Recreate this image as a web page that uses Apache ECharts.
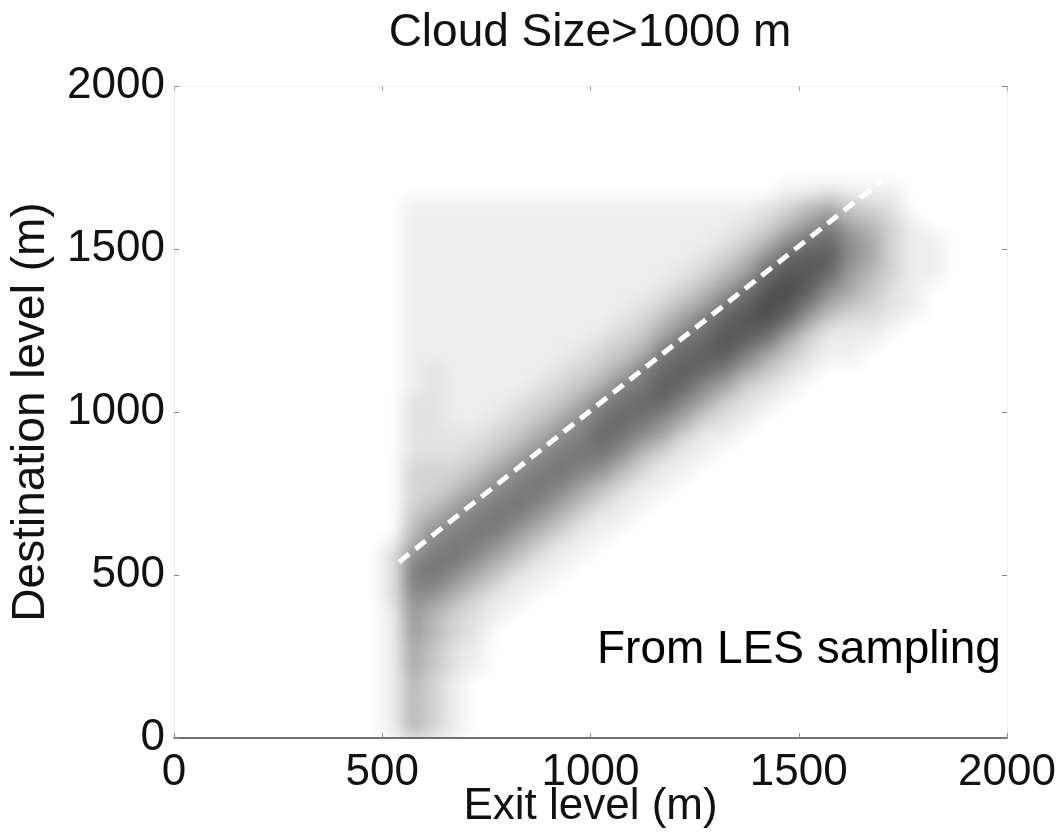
<html>
<head>
<meta charset="utf-8">
<title>Cloud Size&gt;1000 m</title>
<style>
html, body {
    margin: 0;
    padding: 0;
    width: 100%;
    height: 100%;
    background: #fff;
}
#heatWrap {
    position: absolute;
    left: 174px;
    top: 86px;
    width: 833px;
    height: 652px;
    overflow: hidden;
}
#heat {
    width: 100%;
    height: 100%;
    filter: blur(8px);
}
#main {
    position: absolute;
    left: 0;
    top: 0;
    width: 1062px;
    height: 839px;
}
</style>
<script src="https://cdn.jsdelivr.net/npm/echarts/dist/echarts.min.js"></script>
</head>
<body>
<div id="heatWrap"><div id="heat"></div></div>
<div id="main"></div>
<script>
// bin centres (m), 50 m bins, used for both exit and destination level
var binCenters = [25, 75, 125, 175, 225, 275, 325, 375, 425, 475,
    525, 575, 625, 675, 725, 775, 825, 875, 925, 975,
    1025, 1075, 1125, 1175, 1225, 1275, 1325, 1375, 1425, 1475,
    1525, 1575, 1625, 1675, 1725, 1775, 1825, 1875, 1925, 1975];

// sampled density, one string per exit-level bin (x), read bottom (0 m) to top (2000 m)
// hex digit = grey level 0 (white) .. f (darkest)
var densityCols = [
    "0000000000 0000000000 0000000000 0000000000",
    "0000000000 0000000000 0000000000 0000000000",
    "0000000000 0000000000 0000000000 0000000000",
    "0000000000 0000000000 0000000000 0000000000",
    "0000000000 0000000000 0000000000 0000000000",
    "0000000000 0000000000 0000000000 0000000000",
    "0000000000 0000000000 0000000000 0000000000",
    "0000000000 0000000000 0000000000 0000000000",
    "0000000000 0000000000 0000000000 0000000000",
    "0000000000 0000000000 0000000000 0000000000",
    "1111111122 2200000000 0000000000 0000000000",
    "5555667789 9754333222 2111111111 1110000000",
    "3333445579 a986433222 2221111111 1110000000",
    "1111223357 9a98643221 1111111111 1110000000",
    "0000112235 79a9864321 1111111111 1110000000",
    "0000000113 579a986432 1111111111 1110000000",
    "0000000011 3579a98643 2111111111 1110000000",
    "0000000001 13579a9864 3211111111 1110000000",
    "0000000000 113579a986 4321111111 1110000000",
    "0000000000 0113579a98 6432111111 1110000000",
    "0000000000 0011358aba 9643211111 1110000000",
    "0000000000 00011358ab a964321111 1110000000",
    "0000000000 000011358a ba96432111 1110000000",
    "0000000000 0000011368 bcba753211 1110000000",
    "0000000000 0000001136 8bcba75321 1110000000",
    "0000000000 0000000113 68bcba7532 1110000000",
    "0000000000 0000000012 369cdca753 2110000000",
    "0000000000 0000000001 2369cdca75 3210000000",
    "0000000000 0000000000 1246adedb8 5320000000",
    "0000000000 0000000000 01246adedb 8531000000",
    "0000000000 0000000000 0012369cdc a751000000",
    "0000000000 0000000000 00011368bc b962000000",
    "0000000000 0000000000 0001124678 8641000000",
    "0000000000 0000000000 0000123456 6531000000",
    "0000000000 0000000000 0000012233 3321000000",
    "0000000000 0000000000 0000001111 1100000000",
    "0000000000 0000000000 0000000011 1000000000",
    "0000000000 0000000000 0000000000 0000000000",
    "0000000000 0000000000 0000000000 0000000000",
    "0000000000 0000000000 0000000000 0000000000"
];

// dashed white fit line (exit level, destination level)
var lineX = [540, 1700];
var lineY = [540, 1710];

var titleText = 'Cloud Size>1000 m';
var xName = 'Exit level (m)';
var yName = 'Destination level (m)';
var noteText = 'From LES sampling';

var heatData = [];
densityCols.forEach(function (col, i) {
    var s = col.replace(/ /g, '');
    for (var k = 0; k < s.length; k++) {
        heatData.push([i, k, parseInt(s.charAt(k), 16)]);
    }
});

var greys = ['#ffffff', '#eeeeee', '#e2e2e2', '#d4d4d4', '#c6c6c6', '#b8b8b8',
    '#aaaaaa', '#9c9c9c', '#8e8e8e', '#808080', '#747474', '#686868',
    '#5e5e5e', '#555555', '#4d4d4d', '#454545'];

var heatChart = echarts.init(document.getElementById('heat'));
heatChart.setOption({
    animation: false,
    grid: {left: 0, right: 0, top: 0, bottom: 0, outerBoundsMode: 'none'},
    xAxis: {type: 'category', data: binCenters, show: false},
    yAxis: {type: 'category', data: binCenters, show: false},
    visualMap: {
        show: false,
        type: 'continuous',
        dimension: 2,
        min: 0,
        max: 15,
        inRange: {color: greys}
    },
    series: [{
        type: 'heatmap',
        data: heatData,
        itemStyle: {borderWidth: 0},
        emphasis: {disabled: true}
    }]
});

var font = 'Liberation Sans';
var plainNum = function (v) { return String(v); };
var linePts = [];
for (var i = 0; i < lineX.length; i++) {
    linePts.push([lineX[i], lineY[i]]);
}

var mainChart = echarts.init(document.getElementById('main'));
mainChart.setOption({
    animation: false,
    title: {
        text: titleText,
        left: 585,
        top: 5,
        textAlign: 'center',
        textStyle: {fontFamily: font, fontSize: 46, fontWeight: 'normal', color: '#111'}
    },
    grid: {left: 174, right: 55, top: 86, bottom: 101, outerBoundsMode: 'none'},
    xAxis: [{
        type: 'value',
        min: 0,
        max: 2000,
        interval: 500,
        position: 'bottom',
        name: xName,
        nameLocation: 'middle',
        nameGap: 47,
        nameMoveOverlap: false,
        nameTextStyle: {fontFamily: font, fontSize: 44, color: '#111'},
        axisLine: {onZero: false, lineStyle: {color: '#444', width: 1.5}},
        axisTick: {inside: true, length: 5, lineStyle: {color: '#888'}},
        axisLabel: {fontFamily: font, fontSize: 44, color: '#111', margin: 13, formatter: plainNum},
        splitLine: {show: false}
    }, {
        type: 'value',
        min: 0,
        max: 2000,
        interval: 500,
        position: 'top',
        axisLine: {onZero: false, lineStyle: {color: '#f0f0f0'}},
        axisTick: {inside: true, length: 5, lineStyle: {color: '#aaa'}},
        axisLabel: {show: false},
        splitLine: {show: false}
    }],
    yAxis: [{
        type: 'value',
        min: 0,
        max: 2000,
        interval: 500,
        position: 'left',
        name: yName,
        nameLocation: 'middle',
        nameGap: 120,
        nameMoveOverlap: false,
        nameTextStyle: {fontFamily: font, fontSize: 46, color: '#111'},
        axisLine: {onZero: false, lineStyle: {color: '#eeeeee'}},
        axisTick: {inside: true, length: 5, lineStyle: {color: '#888'}},
        axisLabel: {fontFamily: font, fontSize: 44, color: '#111', margin: 9, formatter: plainNum},
        splitLine: {show: false}
    }, {
        type: 'value',
        min: 0,
        max: 2000,
        interval: 500,
        position: 'right',
        axisLine: {onZero: false, lineStyle: {color: '#f0f0f0'}},
        axisTick: {inside: true, length: 5, lineStyle: {color: '#888'}},
        axisLabel: {show: false},
        splitLine: {show: false}
    }],
    graphic: [{
        type: 'text',
        left: 597,
        top: 627,
        style: {
            text: noteText,
            fontFamily: font,
            fontSize: 46,
            fill: '#000'
        }
    }],
    series: [{
        type: 'line',
        xAxisIndex: 0,
        yAxisIndex: 0,
        data: linePts,
        symbol: 'none',
        lineStyle: {color: '#ffffff', width: 5, type: [13, 8]}
    }]
});
</script>
</body>
</html>
